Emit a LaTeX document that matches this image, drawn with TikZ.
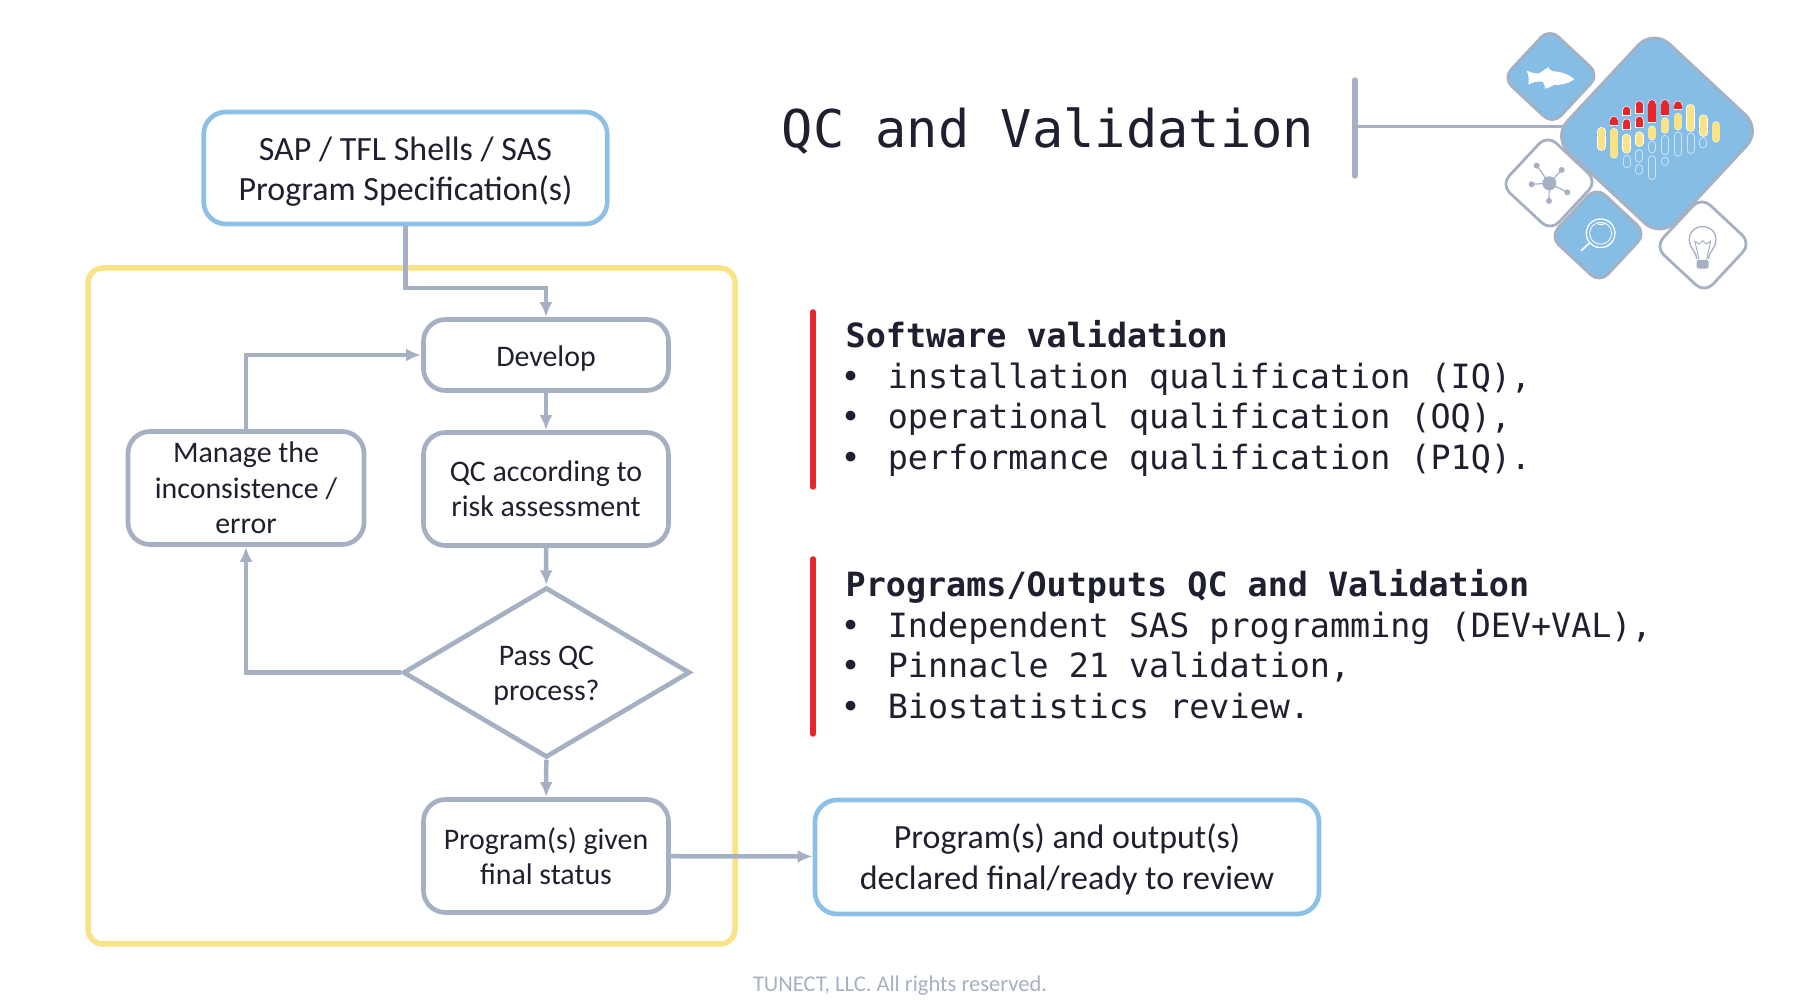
\documentclass[tikz,border=0pt]{standalone}
\usepackage{fontspec}
\setmainfont{Carlito}
\newfontfamily\codefont{DejaVu Sans Mono}
\usetikzlibrary{arrows.meta, shapes.geometric}
\definecolor{skyline}{RGB}{140,192,230}
\definecolor{skyfill}{RGB}{133,189,229}
\definecolor{slateline}{RGB}{165,177,194}
\definecolor{sandline}{RGB}{250,226,135}
\definecolor{alertred}{RGB}{232,38,42}
\definecolor{inkdark}{RGB}{30,32,48}
\definecolor{ghostline}{RGB}{205,230,245}
\newcommand{\topgap}[1]{\rule{0pt}{#1}}
\newcommand{\codedot}{\kern-0.5mm•\kern0.7mm}
\tikzset{
    specbox/.style={draw=skyline, line width=0.47mm, rounded corners=2.2mm, align=center, text=inkdark,
        font=\fontsize{9.66}{11.4}\selectfont, inner sep=0pt},
    stepbox/.style={draw=slateline, line width=0.47mm, rounded corners=2.2mm, align=center, text=inkdark,
        font=\fontsize{8.5}{10.1}\selectfont, inner sep=0pt, minimum width=24.5mm},
    decision/.style={draw=slateline, line width=0.47mm, diamond, aspect=1.69, align=center, text=inkdark,
        font=\fontsize{8.5}{10.1}\selectfont, inner sep=0pt, minimum width=28.7mm, minimum height=17mm},
    flow/.style={draw=slateline, line width=0.45mm, -{Latex[length=1.5mm, width=1.3mm]}},
    codeblock/.style={anchor=north west, align=left, text=inkdark, inner sep=0pt,
        font=\codefont\fontsize{9.5}{11.5}\selectfont},
    redbar/.style={draw=alertred, line width=0.55mm, line cap=round},
    tile/.style={draw=slateline, line width=0.28mm, rotate=47, rounded corners=#1},
    tile/.default=1.2mm
}
\begin{document}
\begin{tikzpicture}[x=10mm, y=-10mm, >=latex]
        \useasboundingbox (0,0) rectangle (18,10);
        % Rahmen
        \node[draw=sandline, line width=0.55mm, rounded corners=1.5mm, minimum width=64.7mm, minimum height=67.6mm] (frame) at (4.115,6.06) {};
        % Kaesten
        \node[specbox, minimum width=40.35mm, minimum height=11.2mm] (spec) at (4.055,1.68) {\topgap{9pt}SAP / TFL Shells / SAS\\Program Specification(s)};
        \node[stepbox, minimum height=7.1mm] (develop) at (5.46,3.55) {\topgap{8pt}Develop};
        \node[stepbox, minimum height=11.3mm] (qc) at (5.46,4.89) {QC according to\\risk assessment};
        \node[stepbox, minimum width=23.6mm, minimum height=11.3mm] (manage) at (2.46,4.88) {Manage the\\inconsistence /\\error};
        \node[decision] (pass) at (5.465,6.725) {\topgap{7.4pt}Pass QC\\process?};
        \node[stepbox, minimum height=11.3mm] (final) at (5.46,8.56) {Program(s) given\\final status};
        \node[specbox, minimum width=50.4mm, minimum height=11.4mm] (ready) at (10.67,8.57) {\topgap{8.4pt}Program(s) and output(s)\\declared final/ready to review};
        % Pfeile
        \coordinate (turn) at (4.055,2.88);
        \draw[flow] (spec.south) |- (turn) -| (develop.north);
        \draw[flow] (develop) -- (qc);
        \draw[flow] (qc) -- (pass);
        \draw[flow] (pass) -- (final);
        \draw[flow] (final) -- (ready);
        \draw[flow] (pass.west) -| (manage.south);
        \draw[flow] (manage.north) |- (develop.west);
        % Titel und Texte
        \node[anchor=base west, inner sep=0pt, text=inkdark, font=\codefont\fontsize{14.8}{17}\selectfont] (title) at (7.81,1.48) {QC and Validation};
        \node[codeblock] (software) at (8.45,3.20) {\textbf{Software validation}\\\codedot{} installation qualification (IQ),\\\codedot{} operational qualification (OQ),\\\codedot{} performance qualification (P1Q).};
        \node[codeblock] (programs) at (8.45,5.69) {\textbf{Programs/Outputs QC and Validation}\\\codedot{} Independent SAS programming (DEV+VAL),\\\codedot{} Pinnacle 21 validation,\\\codedot{} Biostatistics review.};
        \coordinate (softtop) at (8.13,3.12);
        \coordinate (softend) at (8.13,4.87);
        \coordinate (progtop) at (8.13,5.59);
        \coordinate (progend) at (8.13,7.34);
        \draw[redbar] (softtop) -- (softend);
        \draw[redbar] (progtop) -- (progend);
        \node[text=slateline, inner sep=0pt, font=\fontsize{6.4}{8}\selectfont] (rights) at (9.0,9.86) {TUNECT, LLC. All rights reserved.};
        % Logo
        \coordinate (tickup) at (13.55,0.80);
        \coordinate (tickdown) at (13.55,1.76);
        \coordinate (tickmid) at (13.55,1.27);
        \coordinate (logojoin) at (15.65,1.27);
        \draw[slateline, line width=0.55mm, line cap=round] (tickup) -- (tickdown);
        \draw[slateline, line width=0.3mm] (tickmid) -- (logojoin);
        \node[tile=2.2mm, fill=skyfill, minimum size=14.8mm] (bigtile) at (16.57,1.335) {};
        \node[tile, fill=skyfill, minimum size=6.8mm] (fishtile) at (15.51,0.765) {};
        \node[tile, fill=white, minimum size=6.8mm] (nettile) at (15.49,1.83) {};
        \node[tile, fill=skyfill, minimum size=6.8mm] (lenstile) at (15.98,2.35) {};
        \node[tile, fill=white, minimum size=6.8mm] (bulbtile) at (17.03,2.45) {};
        \begin{scope}[xshift=148mm, yshift=-2mm, x=0.03333mm, y=-0.03333mm]
            % Balken
            \foreach \x/\a/\b in {365/322/392, 402/325/415, 440/342/400, 478/335/380, 516/318/360, 555/293/340, 594/280/330, 632/253/335, 670/284/350, 708/305/367} {
                \draw[white, line width=0.86mm, line cap=round] (\x,\a+12) -- (\x,\b-12);
                \draw[sandline, line width=0.74mm, line cap=round] (\x,\a+12) -- (\x,\b-12);
            }
            \foreach \x/\a/\b in {402/290/318, 440/260/288, 440/298/330, 478/244/282, 478/290/324, 516/240/308, 555/240/288, 594/244/270} {
                \draw[white, line width=0.86mm] (\x,\a+11) -- (\x,\b);
                \fill[white] (\x,\a+11) circle (13);
                \draw[alertred, line width=0.74mm] (\x,\a+11) -- (\x,\b-2);
                \fill[alertred] (\x,\a+11) circle (11);
            }
            \foreach \x/\a/\b in {440/405/445, 478/388/428, 478/432/465, 516/362/400, 516/406/480, 555/345/405, 555/410/438, 594/335/410, 632/338/402, 670/352/385} {
                \draw[ghostline, line width=0.8mm, line cap=round] (\x,\a+12) -- (\x,\b-12);
                \draw[skyfill, line width=0.6mm, line cap=round] (\x,\a+12) -- (\x,\b-12);
            }
            % Fisch
            \fill[white] (140,152) .. controls (155,158) and (165,162) .. (178,160) .. controls (185,155) and (195,148) .. (205,142) .. controls (208,148) and (210,152) .. (220,154) .. controls (245,155) and (270,165) .. (283,178) .. controls (265,192) and (240,195) .. (222,195) .. controls (215,200) and (205,204) .. (195,206) .. controls (195,200) and (195,195) .. (188,185) .. controls (170,183) and (155,188) .. (145,194) .. controls (148,180) and (146,165) .. (140,152) -- cycle;
            % Netz
            \foreach \x/\y in {170/437, 245/450, 155/493, 262/517, 207/543} {
                \draw[slateline, line width=0.12mm] (208,490) -- (\x,\y);
                \fill[slateline] (\x,\y) circle (9);
            }
            \fill[slateline] (208,490) circle (21);
            % Lupe
            \draw[white, line width=0.13mm] (362,640) circle (43);
            \draw[white, line width=0.08mm] (362,640) circle (33);
            \draw[white, line width=0.16mm, line cap=round] (330,668) -- (304,692);
            \draw[white, line width=0.1mm] (352,612) arc (110:60:32);
            % Lampe
            \draw[slateline, line width=0.13mm] (650,718) .. controls (650,695) and (628,685) .. (628,660) .. controls (628,635) and (645,620) .. (668,620) .. controls (691,620) and (708,635) .. (708,660) .. controls (708,685) and (686,695) .. (686,718);
            \draw[slateline, line width=0.1mm] (657,718) -- (645,665) -- (658,672) -- (668,662) -- (678,672) -- (692,665) -- (680,718);
            \fill[slateline, rounded corners=0.2mm] (650,720) rectangle (686,746);
        \end{scope}
    \end{tikzpicture}
\end{document}
